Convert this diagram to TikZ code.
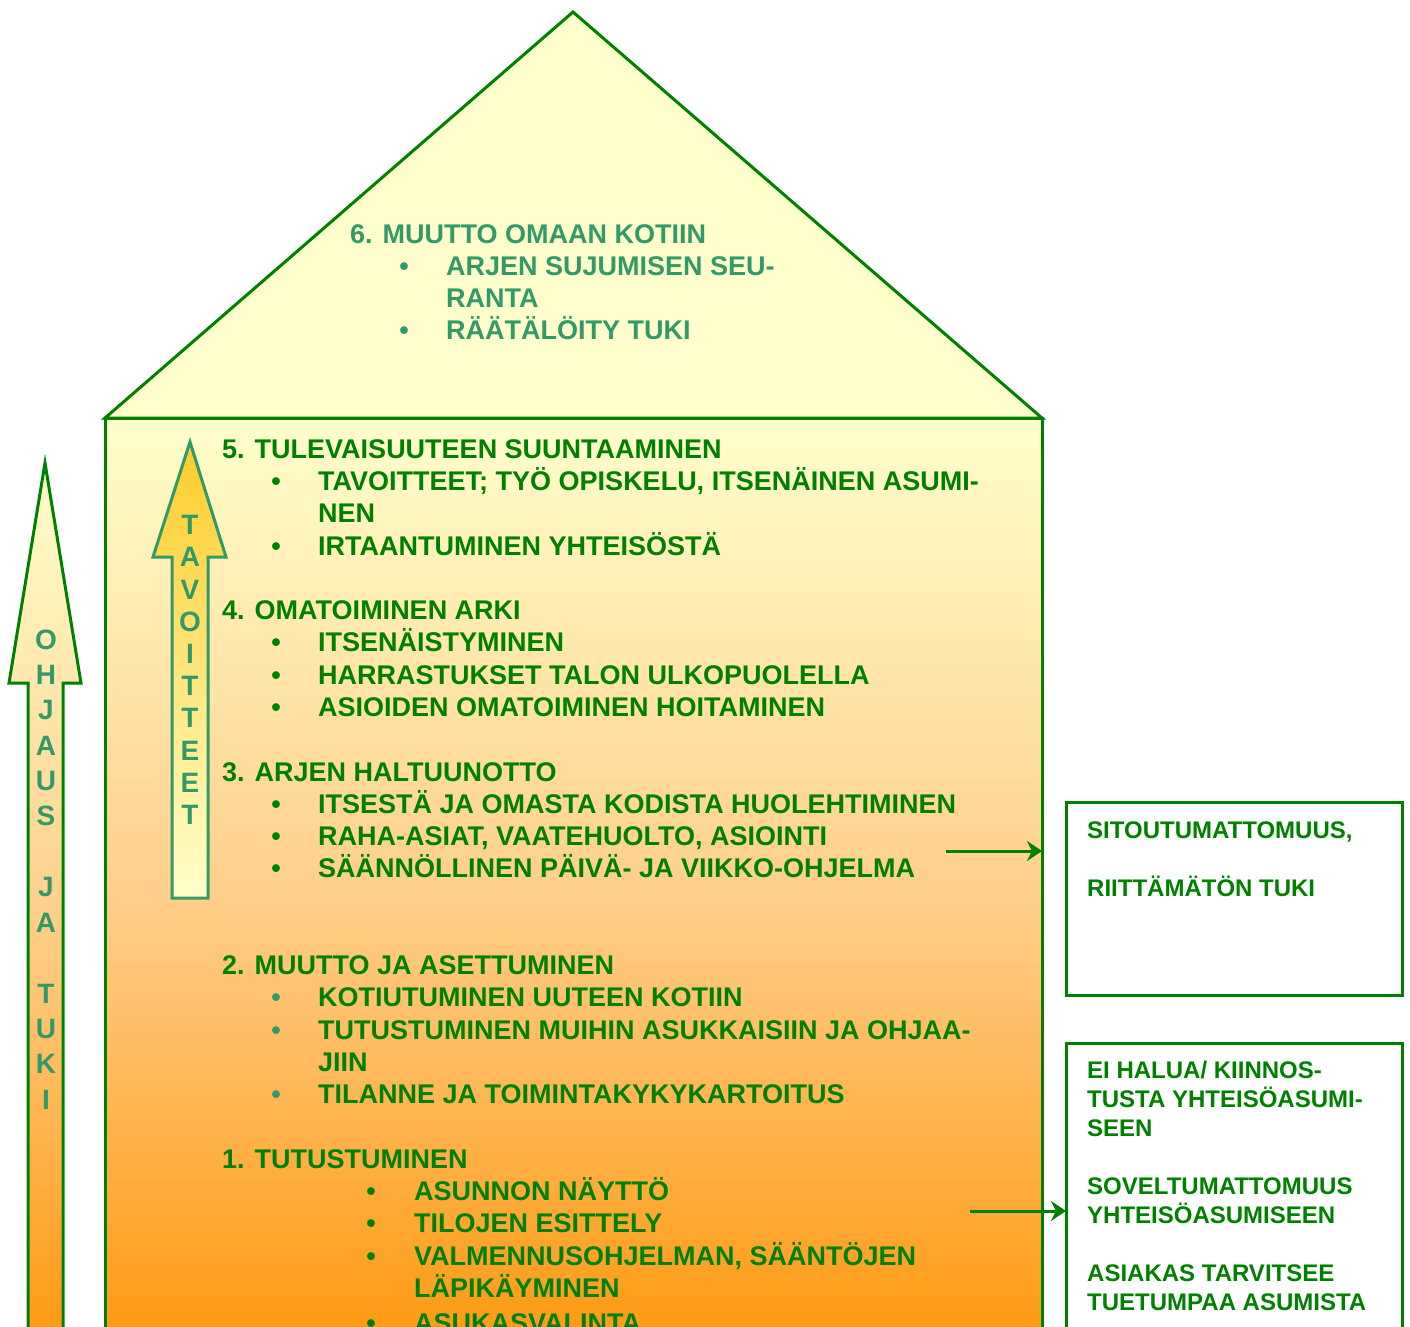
\documentclass[tikz,border=0pt]{standalone}
\usepackage{fontspec}
\setmainfont{Liberation Sans}
\usetikzlibrary{arrows.meta}
\definecolor{grn}{HTML}{008000}
\definecolor{teal6}{HTML}{339966}
\definecolor{pale}{HTML}{FFFFCC}
\definecolor{peach}{HTML}{FFD08E}
\definecolor{orng}{HTML}{FF9910}
\definecolor{gold}{HTML}{FFCC2A}
\tikzset{
  wall/.style={draw=grn, line width=3pt},
  link/.style={draw=grn, line width=3pt, -{Stealth[length=15pt,width=20pt,inset=5pt]}},
  lbl/.style={anchor=base west, inner sep=0pt, text=grn, font=\fontsize{27}{32}\selectfont\bfseries},
  lblsix/.style={lbl, text=teal6},
  dot/.style={anchor=base, inner sep=0pt, text=grn, font=\fontsize{27}{32}\selectfont\bfseries},
  dotsix/.style={dot, text=teal6},
  boxtxt/.style={anchor=base west, inner sep=0pt, text=grn, font=\fontsize{24}{29}\selectfont\bfseries},
  vlet/.style={inner sep=0pt, text=teal6, font=\fontsize{28}{28}\selectfont\bfseries},
}

\begin{document}
\begin{tikzpicture}[x=1pt,y=-1pt]
		\useasboundingbox (0,0) rectangle (1410,1327);
		%%%%% HOUSE %%%%%
		\draw[wall, fill=pale] (105,418) -- (573,12) -- (1042,418) -- cycle;
		\draw[wall, top color=pale, bottom color=orng, middle color=peach] (105,1345) -- (105,418) -- (1042,418) -- (1042,1345);
		
		%%%%% SIDE ARROWS %%%%%
		\draw[wall, top color=pale, bottom color=orng, middle color=peach] (28,1345) -- (28,683) -- (9,683) -- (45,463) -- (81,683) -- (63,683) -- (63,1345);
		\foreach \ch/\yy [count=\i] in {O/640,H/675,J/710,A/746,U/781,S/816,J/887,A/923,T/994,U/1029,K/1064,I/1100}
			\node[vlet] (o\i) at (46,\yy) {\ch};
		
		\draw[draw=teal6, line width=3pt, top color=gold, bottom color=pale] (172,898) -- (172,557) -- (153,557) -- (190,442) -- (226,557) -- (208,557) -- (208,898) -- cycle;
		\foreach \ch [count=\i] in {T,A,V,O,I,T,T,E,E,T}
			\node[vlet] (t\i) at (190,{525+32.2*(\i-1)}) {\ch};
		
		%%%%% ROOF %%%%%
		\node[lblsix] (s6) at (350,243) {6. MUUTTO OMAAN KOTIIN};
		\node[dotsix] (b6a) at (404,275) {•};
		\node[lblsix] (s6a) at (446,275) {ARJEN SUJUMISEN SEU-};
		\node[lblsix] (s6b) at (446,307) {RANTA};
		\node[dotsix] (b6c) at (404,339) {•};
		\node[lblsix] (s6c) at (446,339) {RÄÄTÄLÖITY TUKI};
		
		%%%%% FLOORS %%%%%
		\node[lbl] (s5) at (222,458) {5. TULEVAISUUTEEN SUUNTAAMINEN};
		\node[dot] (b5a) at (276,490) {•};
		\node[lbl] (s5a) at (318,490) {TAVOITTEET; TYÖ OPISKELU, ITSENÄINEN ASUMI-};
		\node[lbl] (s5b) at (318,522) {NEN};
		\node[dot] (b5c) at (276,555) {•};
		\node[lbl] (s5c) at (318,555) {IRTAANTUMINEN YHTEISÖSTÄ};
		
		\node[lbl] (s4) at (222,619) {4. OMATOIMINEN ARKI};
		\node[dot] (b4a) at (276,651) {•};
		\node[lbl] (s4a) at (318,651) {ITSENÄISTYMINEN};
		\node[dot] (b4b) at (276,684) {•};
		\node[lbl] (s4b) at (318,684) {HARRASTUKSET TALON ULKOPUOLELLA};
		\node[dot] (b4c) at (276,716) {•};
		\node[lbl] (s4c) at (318,716) {ASIOIDEN OMATOIMINEN HOITAMINEN};
		
		\node[lbl] (s3) at (222,781) {3. ARJEN HALTUUNOTTO};
		\node[dot] (b3a) at (276,813) {•};
		\node[lbl] (s3a) at (318,813) {ITSESTÄ JA OMASTA KODISTA HUOLEHTIMINEN};
		\node[dot] (b3b) at (276,845) {•};
		\node[lbl] (s3b) at (318,845) {RAHA-ASIAT, VAATEHUOLTO, ASIOINTI};
		\node[dot] (b3c) at (276,877) {•};
		\node[lbl] (s3c) at (318,877) {SÄÄNNÖLLINEN PÄIVÄ- JA VIIKKO-OHJELMA};
		
		\node[lbl] (s2) at (222,974) {2. MUUTTO JA ASETTUMINEN};
		\node[dotsix] (b2a) at (276,1006) {•};
		\node[lbl] (s2a) at (318,1006) {KOTIUTUMINEN UUTEEN KOTIIN};
		\node[dotsix] (b2b) at (276,1039) {•};
		\node[lbl] (s2b) at (318,1039) {TUTUSTUMINEN MUIHIN ASUKKAISIIN JA OHJAA-};
		\node[lbl] (s2c) at (318,1071) {JIIN};
		\node[dotsix] (b2d) at (276,1103) {•};
		\node[lbl] (s2d) at (318,1103) {TILANNE JA TOIMINTAKYKYKARTOITUS};
		
		\node[lbl] (s1) at (222,1168) {1. TUTUSTUMINEN};
		\node[dot] (b1a) at (371,1200) {•};
		\node[lbl] (s1a) at (414,1200) {ASUNNON NÄYTTÖ};
		\node[dot] (b1b) at (371,1232) {•};
		\node[lbl] (s1b) at (414,1232) {TILOJEN ESITTELY};
		\node[dot] (b1c) at (371,1265) {•};
		\node[lbl] (s1c) at (414,1265) {VALMENNUSOHJELMAN, SÄÄNTÖJEN};
		\node[lbl] (s1d) at (414,1297) {LÄPIKÄYMINEN};
		\node[dot] (b1e) at (371,1332) {•};
		\node[lbl] (s1e) at (414,1332) {ASUKASVALINTA};
		
		%%%%% DROP-OUT BOXES %%%%%
		\draw[wall, fill=white] (1066,802) rectangle (1402,995);
		\draw[wall, fill=white] (1066,1345) -- (1066,1043) -- (1402,1043) -- (1402,1345);
		
		\node[boxtxt] (r1a) at (1087,838) {SITOUTUMATTOMUUS,};
		\node[boxtxt] (r1b) at (1087,896) {RIITTÄMÄTÖN TUKI};
		
		\node[boxtxt] (r2a) at (1087,1078) {EI HALUA/ KIINNOS-};
		\node[boxtxt] (r2b) at (1087,1107) {TUSTA YHTEISÖASUMI-};
		\node[boxtxt] (r2c) at (1087,1136) {SEEN};
		\node[boxtxt] (r2d) at (1087,1194) {SOVELTUMATTOMUUS};
		\node[boxtxt] (r2e) at (1087,1223) {YHTEISÖASUMISEEN};
		\node[boxtxt] (r2f) at (1087,1281) {ASIAKAS TARVITSEE};
		\node[boxtxt] (r2g) at (1087,1310) {TUETUMPAA ASUMISTA};
		
		\coordinate (a1s) at (946,851);
		\coordinate (a1e) at (1042,851);
		\coordinate (a2s) at (970,1211);
		\coordinate (a2e) at (1066,1211);
		\draw[link] (a1s) -- (a1e);
		\draw[link] (a2s) -- (a2e);
		%%%%% END %%%%%
	\end{tikzpicture}
\end{document}
